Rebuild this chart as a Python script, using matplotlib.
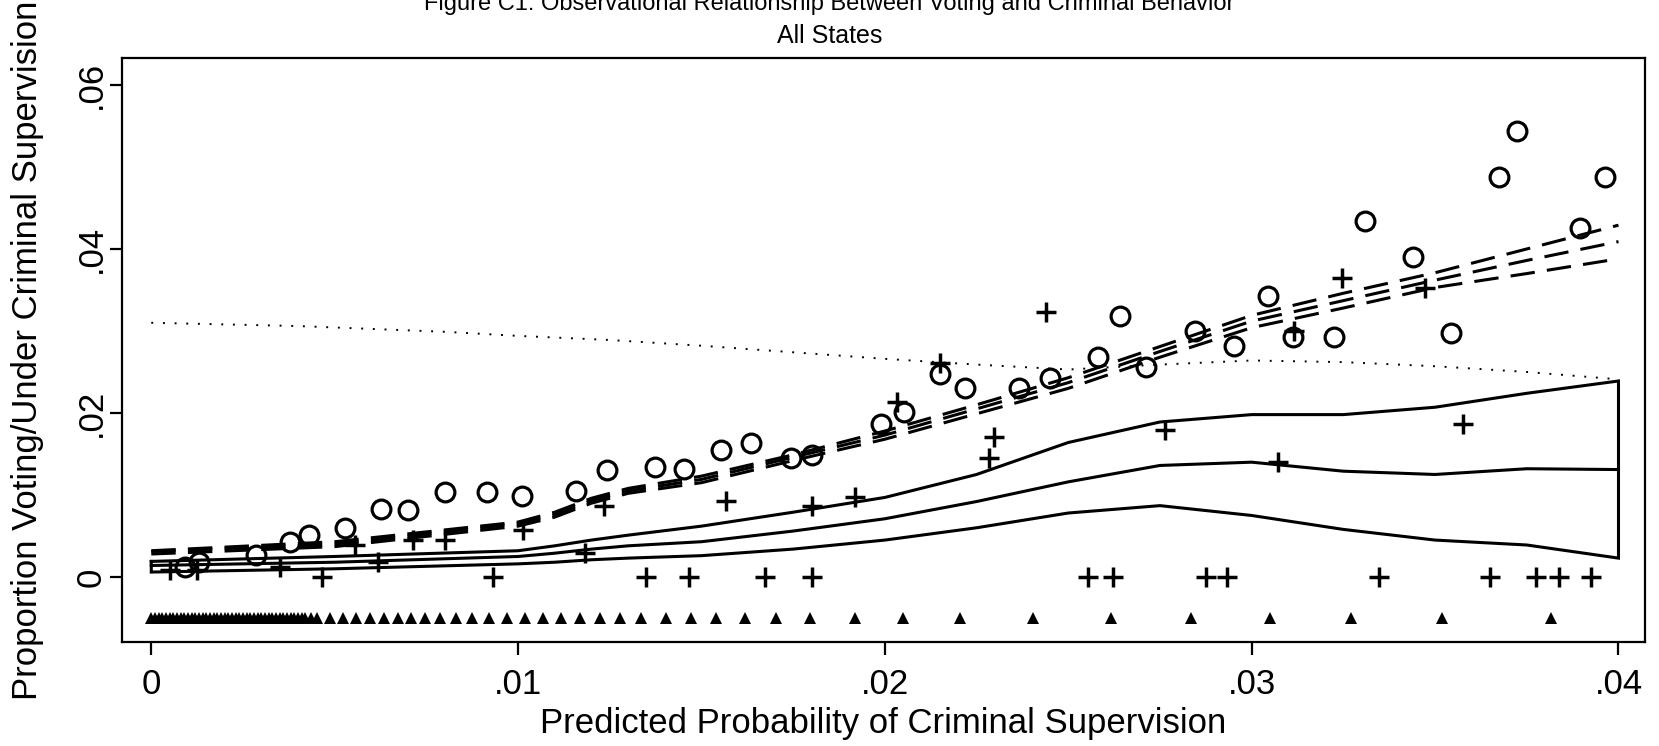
#!/usr/bin/env python3
"""
Figure C1: observed voting vs criminal supervision, all states
"""
import numpy as np
import matplotlib
matplotlib.use('Agg')
import matplotlib.pyplot as plt

plt.rcParams['font.family'] = ['Liberation Sans', 'DejaVu Sans']

# binned means, voting share (circles)
vote_x = [0.00092, 0.0013, 0.00285, 0.00378, 0.0043, 0.00528, 0.00626, 0.0070,
          0.0080, 0.00915, 0.0101, 0.01158, 0.01243, 0.01373, 0.01451, 0.01552,
          0.01635, 0.01745, 0.0180, 0.0199, 0.02053, 0.02151, 0.02218, 0.02365,
          0.02451, 0.02581, 0.02642, 0.02711, 0.02846, 0.02953, 0.03045, 0.03112,
          0.03224, 0.03308, 0.0344, 0.03544, 0.03674, 0.03723, 0.03896, 0.03963]
vote_y = [0.0012, 0.0018, 0.0027, 0.0043, 0.0051, 0.0060, 0.0083, 0.0082,
          0.0104, 0.0104, 0.0099, 0.0105, 0.0130, 0.0134, 0.0132, 0.0155,
          0.0163, 0.0145, 0.0149, 0.0186, 0.0201, 0.0247, 0.0230, 0.0231,
          0.0243, 0.0268, 0.0318, 0.0256, 0.0300, 0.0282, 0.0343, 0.0293,
          0.0293, 0.0434, 0.0390, 0.0297, 0.0488, 0.0544, 0.0425, 0.0488]

# binned means, share under supervision (plus)
sup_x = [0.00051, 0.00125, 0.00351, 0.00465, 0.00555, 0.00618, 0.00713, 0.0080,
         0.00931, 0.01013, 0.01182, 0.01234, 0.01349, 0.01465, 0.01566, 0.01672,
         0.0180, 0.0180, 0.01918, 0.02033, 0.02151, 0.02284, 0.02298, 0.0244,
         0.02553, 0.02622, 0.02763, 0.02875, 0.02932, 0.03071, 0.03115, 0.03247,
         0.03347, 0.03472, 0.03576, 0.03651, 0.03776, 0.03838, 0.03924]
sup_y = [0.0008, 0.0008, 0.0012, 0.0, 0.0039, 0.0018, 0.0045, 0.0045,
         0.0, 0.0057, 0.0029, 0.0087, 0.0, 0.0, 0.0093, 0.0,
         0.0, 0.0087, 0.0097, 0.0213, 0.0261, 0.0145, 0.0171, 0.0323,
         0.0, 0.0, 0.0179, 0.0, 0.0, 0.0140, 0.0300, 0.0365,
         0.0, 0.0353, 0.0186, 0.0, 0.0, 0.0, 0.0]

# distribution of predicted probabilities (triangles)
rug_x = [0.0, 0.0001, 0.0002, 0.0003, 0.0004, 0.0005, 0.0006, 0.0007, 0.0008,
         0.0009, 0.0010, 0.0011, 0.0012, 0.0013, 0.0014, 0.0015, 0.0016, 0.0017,
         0.0018, 0.0019, 0.0020, 0.0021, 0.0022, 0.0023, 0.0024, 0.0025, 0.0026,
         0.0027, 0.0028, 0.0029, 0.0030, 0.0031, 0.0032, 0.0033, 0.0034, 0.0035,
         0.0036, 0.0037, 0.0038, 0.0039, 0.0040, 0.0041, 0.0042, 0.00435,
         0.00453, 0.00487, 0.00522, 0.00559, 0.00597, 0.00634, 0.00672, 0.00709,
         0.00747, 0.00787, 0.00831, 0.00874, 0.0092, 0.00969, 0.01018, 0.01067,
         0.01116, 0.01168, 0.01223, 0.01278, 0.01335, 0.01402, 0.01471, 0.0154,
         0.01618, 0.01704, 0.01797, 0.01918, 0.0205, 0.02206, 0.02405, 0.02616,
         0.02835, 0.03051, 0.0327, 0.03518, 0.03815]
rug_y = -0.005

# smoothed fits
grid = [0.0, 0.005, 0.01, 0.011, 0.012, 0.013, 0.015, 0.0175, 0.02, 0.0225,
        0.025, 0.0275, 0.03, 0.0325, 0.035, 0.0375, 0.04]
dash_hi = [0.0032, 0.0043, 0.0067, 0.0079, 0.0096, 0.0108, 0.0123, 0.0149, 0.0178,
           0.0210, 0.0243, 0.0281, 0.0319, 0.0346, 0.0371, 0.0400, 0.0429]
dash_mid = [0.0031, 0.0040, 0.0065, 0.0076, 0.0093, 0.0105, 0.0119, 0.0146, 0.0173,
            0.0205, 0.0237, 0.0275, 0.0312, 0.0337, 0.0362, 0.0386, 0.0409]
dash_lo = [0.0028, 0.0037, 0.0062, 0.0073, 0.0090, 0.0102, 0.0115, 0.0142, 0.0168,
           0.0199, 0.0230, 0.0268, 0.0304, 0.0328, 0.0353, 0.0370, 0.0388]

solid_hi = [0.0019, 0.0025, 0.0032, 0.0038, 0.0045, 0.0051, 0.0062, 0.0079, 0.0097,
            0.0125, 0.0164, 0.0189, 0.0198, 0.0198, 0.0207, 0.0224, 0.0239]
solid_mid = [0.0014, 0.0018, 0.0025, 0.0029, 0.0034, 0.0038, 0.0043, 0.0056, 0.0071,
             0.0092, 0.0116, 0.0136, 0.0140, 0.0129, 0.0125, 0.0132, 0.0131]
solid_lo = [0.0006, 0.0010, 0.0016, 0.0018, 0.0021, 0.0023, 0.0026, 0.0034, 0.0045,
            0.0060, 0.0078, 0.0087, 0.0075, 0.0058, 0.0045, 0.0039, 0.0023]

dot_x = [0.0, 0.004, 0.008, 0.01, 0.0125, 0.015, 0.0175, 0.02, 0.0225, 0.025,
         0.0275, 0.03, 0.0325, 0.035, 0.0375, 0.04]
dot_y = [0.0310, 0.0306, 0.0299, 0.0294, 0.0289, 0.0282, 0.0274, 0.0266, 0.0259,
         0.0253, 0.0259, 0.0264, 0.0262, 0.0257, 0.0250, 0.0241]

fig = plt.figure(figsize=(16.59, 7.46), dpi=100)
ax = fig.add_axes([0.0735, 0.1394, 0.918, 0.783])

lw = 2.2
ax.plot(dot_x, dot_y, color='black', lw=1.4, linestyle=(0, (1, 5)))

# band drawn as a closed outline
band_x = grid + grid[::-1] + [grid[0]]
band_y = solid_hi + solid_lo[::-1] + [solid_hi[0]]
ax.plot(band_x, band_y, color='black', lw=lw, solid_joinstyle='miter')
ax.plot(grid, solid_mid, color='black', lw=lw)

for ys in (dash_hi, dash_mid, dash_lo):
    ax.plot(grid, ys, color='black', lw=lw, linestyle=(0, (8, 4)))

ax.plot(vote_x, vote_y, linestyle='none', marker='o', ms=13.5,
        mfc='none', mec='black', mew=2.3)
ax.plot(sup_x, sup_y, linestyle='none', marker='+', ms=15,
        color='black', mew=2.5)
ax.plot(rug_x, np.full(len(rug_x), rug_y), linestyle='none', marker='^',
        ms=8, color='black', mew=0)

ax.set_xlim(-0.0008, 0.04072)
ax.set_ylim(-0.00793, 0.0633)

ax.set_xticks([0, 0.01, 0.02, 0.03, 0.04])
ax.set_xticklabels(['0', '.01', '.02', '.03', '.04'])
ax.set_yticks([0, 0.02, 0.04, 0.06])
ax.set_yticklabels(['0', '.02', '.04', '.06'], rotation=90, va='center')
ax.tick_params(axis='both', labelsize=25, length=9, width=1.6, direction='out',
               color='black')
ax.tick_params(axis='x', pad=10)
ax.tick_params(axis='y', pad=1)
for s in ax.spines.values():
    s.set_linewidth(1.6)

ax.set_xlabel('Predicted Probability of Criminal Supervision', fontsize=25,
              labelpad=4)
ax.set_ylabel('Proportion Voting/Under Criminal Supervision', fontsize=25)
ax.yaxis.set_label_coords(-0.051, 0.5)

fig.text(0.5, 1 - 10 / 746,
         'Figure C1: Observational Relationship Between Voting and Criminal Behavior',
         ha='center', va='baseline', fontsize=17)
fig.text(0.5, 1 - 43 / 746, 'All States', ha='center', va='baseline', fontsize=18)

fig.savefig('out.png', dpi=100)
